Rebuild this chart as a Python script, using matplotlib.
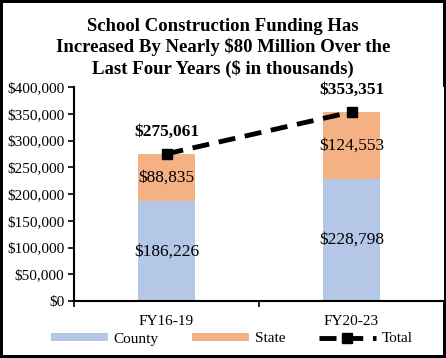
import numpy as np
import matplotlib.pyplot as plt
from matplotlib.ticker import FuncFormatter

periods = ["FY16-19", "FY20-23"]
county = [186226, 228798]
state = [88835, 124553]
total = [275061, 353351]

plt.rcParams['font.family'] = ['Liberation Serif', 'DejaVu Serif']

fig = plt.figure(figsize=(4.46, 3.58), dpi=100)
fig.patch.set_edgecolor('black')
fig.patch.set_linewidth(4)
ax = fig.add_axes([74 / 446, 1 - 301 / 358, 370 / 446, 214 / 358])

x = np.arange(len(periods))
w = 0.31
b1 = ax.bar(x, county, w, color='#B4C7E7', label='County')
b2 = ax.bar(x, state, w, bottom=county, color='#F4B183', label='State')
ln, = ax.plot(x, total, color='black', lw=3.5, ls=(0, (3.5, 2)), marker='s',
              ms=7, label='Total')

for i in range(len(periods)):
    ax.text(x[i], county[i] / 2, "${:,}".format(county[i]), ha='center',
            va='center', fontsize=12.5)
    ax.text(x[i], county[i] + state[i] / 2, "${:,}".format(state[i]),
            ha='center', va='center', fontsize=12.5)
    ax.annotate("${:,}".format(total[i]), (x[i], total[i]), xytext=(0, 16),
                textcoords='offset points', ha='center', va='center',
                fontsize=12.5, fontweight='bold')

ax.set_xlim(-0.5, 1.5)
ax.set_ylim(0, 400000)
ax.set_yticks(np.arange(0, 400001, 50000))
ax.yaxis.set_major_formatter(FuncFormatter(lambda v, p: "${:,.0f}".format(v)))
ax.set_xticks(x)
ax.set_xticklabels(periods, fontsize=11)
ax.set_xticks([-0.5, 0.5, 1.5], minor=True)
ax.tick_params(axis='x', which='major', length=0, pad=10)
ax.tick_params(axis='x', which='minor', length=4, width=1.2, direction='out')
ax.tick_params(axis='y', length=4, width=1.2, labelsize=11, pad=3)
for s in ['top', 'right']:
    ax.spines[s].set_visible(False)
for s in ['left', 'bottom']:
    ax.spines[s].set_linewidth(1.5)

fig.text(0.5, 1 - 48 / 358,
         "School Construction Funding Has\nIncreased By Nearly \\$80 Million Over the\nLast Four Years (\\$ in thousands)",
         ha='center', va='center', fontsize=13.5, fontweight='bold',
         linespacing=1.22)

fig.legend([b1, b2, ln], ['County', 'State', 'Total'], loc='center',
           bbox_to_anchor=(0.52, 1 - 339 / 358), ncol=3,
           frameon=False, fontsize=11, handlelength=3.7, handleheight=0.4,
           columnspacing=2.2, handletextpad=0.4)

fig.savefig('out.png', dpi=100)
